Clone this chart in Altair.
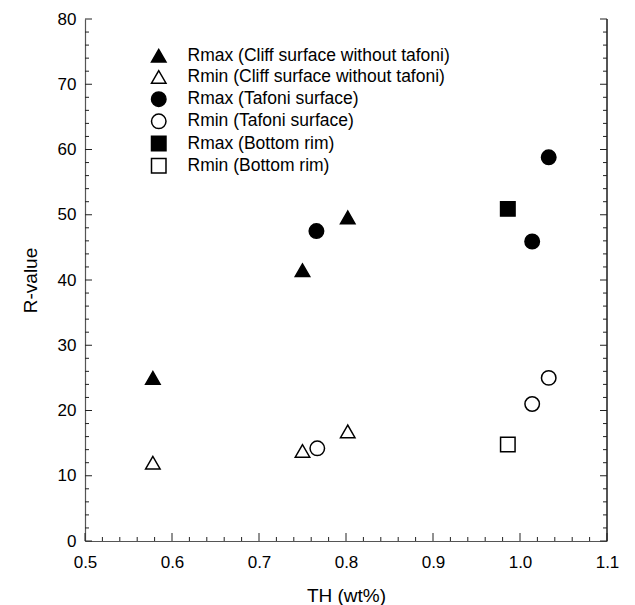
import altair as alt
import pandas as pd

# ---- data ----
series_names = [
    "Rmax (Cliff surface without tafoni)",
    "Rmin (Cliff surface without tafoni)",
    "Rmax (Tafoni surface)",
    "Rmin (Tafoni surface)",
    "Rmax (Bottom rim)",
    "Rmin (Bottom rim)",
]
series_shapes = ["triangle-up", "triangle-up", "circle", "circle", "square", "square"]
series_fills = ["black", "white", "black", "white", "black", "white"]
series_sizes = [210, 210, 170, 170, 180, 180]

cliff_th = [0.578, 0.750, 0.802]
cliff_rmax = [25.0, 41.5, 49.6]
cliff_rmin = [12.0, 13.8, 16.8]

tafoni_th_max = [0.766, 1.014, 1.033]
tafoni_rmax = [47.5, 45.9, 58.8]
tafoni_th_min = [0.767, 1.014, 1.033]
tafoni_rmin = [14.2, 21.0, 25.0]

rim_th = [0.986]
rim_rmax = [50.9]
rim_rmin = [14.8]

x_major = [0.5, 0.6, 0.7, 0.8, 0.9, 1.0, 1.1]
x_minor = [0.52, 0.54, 0.56, 0.58, 0.62, 0.64, 0.66, 0.68, 0.72, 0.74, 0.76, 0.78,
           0.82, 0.84, 0.86, 0.88, 0.92, 0.94, 0.96, 0.98, 1.02, 1.04, 1.06, 1.08]
y_major = [0, 10, 20, 30, 40, 50, 60, 70, 80]
y_minor = [2, 4, 6, 8, 12, 14, 16, 18, 22, 24, 26, 28, 32, 34, 36, 38, 42, 44, 46, 48,
           52, 54, 56, 58, 62, 64, 66, 68, 72, 74, 76, 78]

W, H = 522, 522
FONT = "Liberation Sans"

rows = []
for name, xs, ys in [
    (series_names[0], cliff_th, cliff_rmax),
    (series_names[1], cliff_th, cliff_rmin),
    (series_names[2], tafoni_th_max, tafoni_rmax),
    (series_names[3], tafoni_th_min, tafoni_rmin),
    (series_names[4], rim_th, rim_rmax),
    (series_names[5], rim_th, rim_rmin),
]:
    for xv, yv in zip(xs, ys):
        rows.append({"TH": xv, "R": yv, "Series": name})
df = pd.DataFrame(rows)

xscale = alt.Scale(domain=[0.5, 1.1], nice=False, zero=False)
yscale = alt.Scale(domain=[0, 80], nice=False, zero=False)

xaxis = alt.Axis(values=x_major, format=".1f", grid=False, ticks=False, tickSize=0,
                 domainColor="#555", domainWidth=1.2, labelFlush=False,
                 labelFontSize=17, labelPadding=13, labelColor="black", labelFont=FONT,
                 titleFontSize=19, titleFont=FONT, titleFontWeight="normal",
                 titleColor="black", titlePadding=16)
yaxis = alt.Axis(values=y_major, grid=False, ticks=False, tickSize=0,
                 domainColor="#555", domainWidth=1.2, labelFlush=False,
                 labelFontSize=17, labelPadding=9, labelColor="black", labelFont=FONT,
                 titleFontSize=19, titleFont=FONT, titleFontWeight="normal",
                 titleColor="black", titlePadding=17)

leg = alt.Legend(title=None, orient="none", legendX=65, legendY=28,
                 labelFontSize=17.5, labelFont=FONT, labelColor="black", labelLimit=500,
                 rowPadding=1.2, labelOffset=20)

points = alt.Chart(df).mark_point(
    stroke="black", strokeWidth=1.5, opacity=1, fillOpacity=1
).encode(
    x=alt.X("TH:Q", scale=xscale, title="TH (wt%)", axis=xaxis),
    y=alt.Y("R:Q", scale=yscale, title="R-value", axis=yaxis),
    shape=alt.Shape("Series:N", scale=alt.Scale(domain=series_names, range=series_shapes), legend=leg),
    fill=alt.Fill("Series:N", scale=alt.Scale(domain=series_names, range=series_fills), legend=leg),
    size=alt.Size("Series:N", scale=alt.Scale(domain=series_names, range=series_sizes), legend=leg),
)

ymaj = pd.DataFrame({"R": y_major})
ymin = pd.DataFrame({"R": y_minor})
xmaj = pd.DataFrame({"TH": x_major})
xmin = pd.DataFrame({"TH": x_minor})

def yticks(d, length, right):
    if right:
        xa, xb = alt.value(W), alt.value(W - length)
    else:
        xa, xb = alt.value(0), alt.value(length)
    return alt.Chart(d).mark_rule(color="#222", strokeWidth=1).encode(
        y=alt.Y("R:Q", scale=yscale, title="R-value", axis=yaxis), x=xa, x2=xb)

def xticks(d, length):
    return alt.Chart(d).mark_rule(color="#222", strokeWidth=1).encode(
        x=alt.X("TH:Q", scale=xscale, title="TH (wt%)", axis=xaxis),
        y=alt.value(H), y2=alt.value(H - length))

right_line = alt.Chart(ymaj).mark_rule(color="#555", strokeWidth=1.2).encode(
    x=alt.value(W), y=alt.value(0), y2=alt.value(H))

chart = alt.layer(
    points,
    right_line,
    yticks(ymaj, 7, False), yticks(ymin, 4, False),
    yticks(ymaj, 7, True), yticks(ymin, 4, True),
    xticks(xmaj, 8), xticks(xmin, 4),
).properties(
    width=W, height=H,
    autosize=alt.AutoSizeParams(type="none"),
    padding={"left": 85, "top": 19, "right": 28, "bottom": 64},
).configure(
    background="white"
).configure_view(
    stroke=None
)

chart.save("out.html", embed_options={"renderer": "svg", "actions": False})
